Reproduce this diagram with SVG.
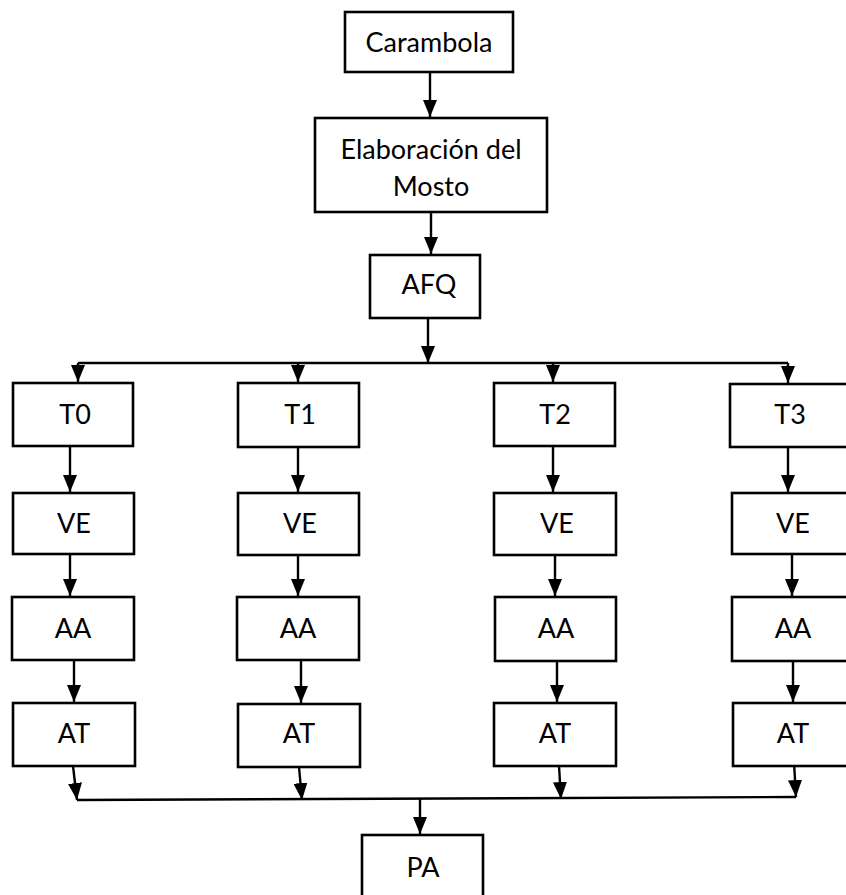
<svg xmlns="http://www.w3.org/2000/svg" width="846" height="895" viewBox="0 0 846 895">
<defs>
<marker id="ah" markerUnits="userSpaceOnUse" markerWidth="17" markerHeight="14" refX="17" refY="7" orient="auto" viewBox="0 0 17 14">
<path d="M0,0 L17,7 L0,14 Z" fill="#000"/>
</marker>
<style>
.box{fill:#fff;stroke:#000;stroke-width:2.6}
.t{font-family:Lato,"Liberation Sans",sans-serif;font-size:27px;text-anchor:middle;fill:#000}
.c{fill:none;stroke:#000;stroke-width:2.4}
</style>
</defs>
<rect width="846" height="895" fill="#fff"/>
<g id="connectors">
<path class="c" d="M430,72 V117" marker-end="url(#ah)"/>
<path class="c" d="M431,212 V254" marker-end="url(#ah)"/>
<path class="c" d="M428,318 V363" marker-end="url(#ah)"/>
<path class="c" d="M78,363 H788"/>
<path class="c" d="M78,363 V382" marker-end="url(#ah)"/>
<path class="c" d="M298,363 V382" marker-end="url(#ah)"/>
<path class="c" d="M553,363 V382" marker-end="url(#ah)"/>
<path class="c" d="M788,363 V383" marker-end="url(#ah)"/>
<path class="c" d="M70,446 V492" marker-end="url(#ah)"/>
<path class="c" d="M298,447 V492" marker-end="url(#ah)"/>
<path class="c" d="M553,446 V492" marker-end="url(#ah)"/>
<path class="c" d="M788,447 V492" marker-end="url(#ah)"/>
<path class="c" d="M70,554 V596" marker-end="url(#ah)"/>
<path class="c" d="M298,555 V596" marker-end="url(#ah)"/>
<path class="c" d="M555,555 V596" marker-end="url(#ah)"/>
<path class="c" d="M792,554 V596" marker-end="url(#ah)"/>
<path class="c" d="M74,660 V702" marker-end="url(#ah)"/>
<path class="c" d="M301,660 V703" marker-end="url(#ah)"/>
<path class="c" d="M557,661 V702" marker-end="url(#ah)"/>
<path class="c" d="M793,661 V702" marker-end="url(#ah)"/>
<path class="c" d="M73,766 L77,800" marker-end="url(#ah)"/>
<path class="c" d="M299,767 L302,800" marker-end="url(#ah)"/>
<path class="c" d="M559,766 L561,799" marker-end="url(#ah)"/>
<path class="c" d="M794,762 L796,797" marker-end="url(#ah)"/>
<path class="c" d="M77,800 L796,797"/>
<path class="c" d="M420,799 V834" marker-end="url(#ah)"/>
</g>
<g id="n-carambola"><rect class="box" x="345" y="12" width="168" height="60"/><text class="t" x="429" y="52">Carambola</text></g>
<g id="n-mosto"><rect class="box" x="315" y="118" width="232" height="94"/><text class="t" x="431" y="159">Elaboración del</text><text class="t" x="431" y="196">Mosto</text></g>
<g id="n-afq"><rect class="box" x="370" y="255" width="110" height="63"/><text class="t" x="429" y="294">AFQ</text></g>
<g id="n-t0"><rect class="box" x="13" y="383" width="120" height="63"/><text class="t" x="75" y="424">T0</text></g>
<g id="n-t1"><rect class="box" x="238" y="383" width="121" height="64"/><text class="t" x="300" y="424">T1</text></g>
<g id="n-t2"><rect class="box" x="494" y="383" width="121" height="63"/><text class="t" x="555" y="424">T2</text></g>
<g id="n-t3"><rect class="box" x="730" y="384" width="121" height="63"/><text class="t" x="790" y="424">T3</text></g>
<g id="n-ve0"><rect class="box" x="13" y="493" width="121" height="61"/><text class="t" x="74" y="533">VE</text></g>
<g id="n-ve1"><rect class="box" x="238" y="493" width="121" height="62"/><text class="t" x="300" y="533">VE</text></g>
<g id="n-ve2"><rect class="box" x="494" y="493" width="122" height="62"/><text class="t" x="557" y="533">VE</text></g>
<g id="n-ve3"><rect class="box" x="732" y="493" width="119" height="61"/><text class="t" x="793" y="533">VE</text></g>
<g id="n-aa0"><rect class="box" x="12" y="597" width="122" height="63"/><text class="t" x="73" y="638">AA</text></g>
<g id="n-aa1"><rect class="box" x="237" y="597" width="122" height="63"/><text class="t" x="298" y="638">AA</text></g>
<g id="n-aa2"><rect class="box" x="495" y="597" width="121" height="64"/><text class="t" x="556" y="638">AA</text></g>
<g id="n-aa3"><rect class="box" x="732" y="597" width="119" height="64"/><text class="t" x="793" y="638">AA</text></g>
<g id="n-at0"><rect class="box" x="13" y="703" width="122" height="63"/><text class="t" x="74" y="743">AT</text></g>
<g id="n-at1"><rect class="box" x="238" y="704" width="122" height="63"/><text class="t" x="299" y="743">AT</text></g>
<g id="n-at2"><rect class="box" x="494" y="703" width="122" height="63"/><text class="t" x="555" y="743">AT</text></g>
<g id="n-at3"><rect class="box" x="733" y="703" width="118" height="63"/><text class="t" x="793" y="743">AT</text></g>
<g id="n-pa"><rect class="box" x="362" y="835" width="121" height="64"/><text class="t" x="423" y="877">PA</text></g>
</svg>
